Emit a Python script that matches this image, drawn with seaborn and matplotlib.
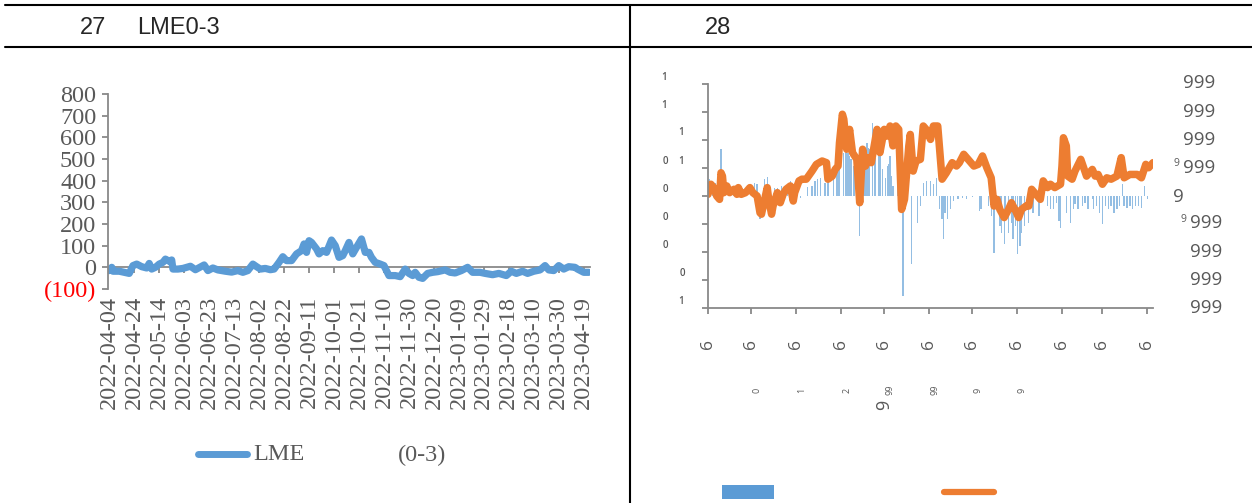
import matplotlib
matplotlib.use("Agg")
import matplotlib.pyplot as plt
import matplotlib.dates as mdates
from matplotlib.lines import Line2D
from matplotlib.patches import Rectangle
import seaborn as sns
import pandas as pd

# ---------------- data: left chart (LME 0-3) ----------------
lme_dates = [
    "2022-04-04", "2022-04-06", "2022-04-07", "2022-04-12", "2022-04-16", "2022-04-20",
    "2022-04-23", "2022-04-26", "2022-04-30", "2022-05-04", "2022-05-06", "2022-05-08",
    "2022-05-11", "2022-05-14", "2022-05-17", "2022-05-19", "2022-05-22", "2022-05-24",
    "2022-05-25", "2022-05-29", "2022-06-02", "2022-06-08", "2022-06-12", "2022-06-19",
    "2022-06-22", "2022-06-26", "2022-06-30", "2022-07-06", "2022-07-11", "2022-07-16",
    "2022-07-20", "2022-07-24", "2022-07-28", "2022-07-31", "2022-08-03", "2022-08-07",
    "2022-08-11", "2022-08-14", "2022-08-18", "2022-08-21", "2022-08-24", "2022-08-28",
    "2022-09-01", "2022-09-05", "2022-09-07", "2022-09-09", "2022-09-11", "2022-09-13",
    "2022-09-17", "2022-09-19", "2022-09-22", "2022-09-25", "2022-09-29", "2022-10-02",
    "2022-10-05", "2022-10-08", "2022-10-10", "2022-10-13", "2022-10-16", "2022-10-19",
    "2022-10-23", "2022-10-26", "2022-10-29", "2022-10-31", "2022-11-03", "2022-11-07",
    "2022-11-10", "2022-11-14", "2022-11-19", "2022-11-23", "2022-11-27", "2022-11-30",
    "2022-12-03", "2022-12-05", "2022-12-08", "2022-12-11", "2022-12-15", "2022-12-19",
    "2022-12-23", "2022-12-29", "2023-01-02", "2023-01-06", "2023-01-11", "2023-01-16",
    "2023-01-20", "2023-01-26", "2023-01-30", "2023-02-05", "2023-02-10", "2023-02-16",
    "2023-02-20", "2023-02-24", "2023-03-01", "2023-03-05", "2023-03-10", "2023-03-15",
    "2023-03-19", "2023-03-22", "2023-03-26", "2023-03-30", "2023-04-03", "2023-04-07",
    "2023-04-12", "2023-04-14", "2023-04-19", "2023-04-23",
]
lme_values = [
    -15, 0, -18, -18, -23, -28,
    8, 15, 3, -3, 18, -8,
    0, 15, 23, 38, 28, 34,
    -8, -8, -5, 5, -11, 11,
    -15, -3, -12, -18, -22, -15,
    -23, -15, 15, 3, -8, -5,
    -11, -8, 23, 49, 31, 31,
    62, 77, 108, 69, 123, 115,
    85, 62, 77, 69, 126, 100,
    46, 54, 77, 115, 62, 92,
    131, 69, 69, 46, 23, 15,
    8, -38, -38, -43, -8, -28,
    -38, -23, -46, -51, -28, -23,
    -20, -12, -23, -26, -15, 0,
    -23, -23, -28, -34, -28, -38,
    -18, -28, -18, -28, -18, -12,
    8, -12, -15, 8, -8, 3,
    0, -8, -23, -23,
]
lme_yticks = [-100, 0, 100, 200, 300, 400, 500, 600, 700, 800]
lme_ytick_labels = ["(100)", "0", "100", "200", "300", "400", "500", "600", "700", "800"]
lme_xtick_labels = [
    "2022-04-04", "2022-04-24", "2022-05-14", "2022-06-03", "2022-06-23", "2022-07-13",
    "2022-08-02", "2022-08-22", "2022-09-11", "2022-10-01", "2022-10-21", "2022-11-10",
    "2022-11-30", "2022-12-20", "2023-01-09", "2023-01-29", "2023-02-18", "2023-03-10",
    "2023-03-30", "2023-04-19",
]

# ---------------- data: right chart ----------------
bar_dates = [
    "2022-06-02", "2022-06-04", "2022-06-06", "2022-06-10", "2022-06-12", "2022-06-19",
    "2022-06-25", "2022-07-03", "2022-07-05", "2022-07-07", "2022-07-10", "2022-07-12",
    "2022-07-17", "2022-07-19", "2022-07-22", "2022-07-26", "2022-07-28", "2022-08-04",
    "2022-08-09", "2022-08-12", "2022-08-14", "2022-08-16", "2022-08-18", "2022-08-21",
    "2022-08-23", "2022-08-27", "2022-08-29", "2022-08-30", "2022-08-31", "2022-09-03",
    "2022-09-04", "2022-09-05", "2022-09-06", "2022-09-07", "2022-09-08", "2022-09-10",
    "2022-09-12", "2022-09-13", "2022-09-14", "2022-09-17", "2022-09-18", "2022-09-19",
    "2022-09-20", "2022-09-21", "2022-09-23", "2022-09-24", "2022-09-25", "2022-09-27",
    "2022-09-28", "2022-09-30", "2022-10-02", "2022-10-03", "2022-10-04", "2022-10-05",
    "2022-10-06", "2022-10-07", "2022-10-10", "2022-10-12", "2022-10-14", "2022-10-15",
    "2022-10-17", "2022-10-20", "2022-10-24", "2022-10-26", "2022-10-28", "2022-10-30",
    "2022-11-02", "2022-11-04", "2022-11-06", "2022-11-08", "2022-11-10", "2022-11-11",
    "2022-11-12", "2022-11-14", "2022-11-16", "2022-11-18", "2022-11-21", "2022-11-24",
    "2022-11-27", "2022-12-01", "2022-12-06", "2022-12-07", "2022-12-12", "2022-12-14",
    "2022-12-16", "2022-12-17", "2022-12-19", "2022-12-20", "2022-12-21", "2022-12-23",
    "2022-12-24", "2022-12-26", "2022-12-28", "2022-12-29", "2022-12-31", "2023-01-01",
    "2023-01-03", "2023-01-04", "2023-01-06", "2023-01-09", "2023-01-10", "2023-01-12",
    "2023-01-16", "2023-01-19", "2023-01-22", "2023-01-24", "2023-01-26", "2023-01-28",
    "2023-01-30", "2023-01-31", "2023-02-04", "2023-02-07", "2023-02-09", "2023-02-10",
    "2023-02-12", "2023-02-15", "2023-02-17", "2023-02-19", "2023-02-22", "2023-02-23",
    "2023-02-25", "2023-02-27", "2023-03-01", "2023-03-03", "2023-03-05", "2023-03-07",
    "2023-03-09", "2023-03-11", "2023-03-13", "2023-03-15", "2023-03-16", "2023-03-18",
    "2023-03-20", "2023-03-22", "2023-03-24", "2023-03-26", "2023-03-28", "2023-03-30",
    "2023-04-01",
]
bar_values = [
    0.60, 0.42, 0.48, 1.67, 0.24, 0.24,
    0.30, 0.48, 0.42, -0.83, 0.60, 0.69,
    0.30, 0.30, 0.36, 0.42, 0.54, -0.06,
    0.33, 0.36, 0.54, 0.60, 0.65, 0.48,
    0.60, 0.71, 0.77, 1.07, 1.37, 1.55,
    1.67, 2.02, 1.55, 1.43, 1.31, 1.07,
    1.49, 1.37, -1.43, 1.67, 1.43, 1.90,
    1.73, 1.67, 2.62, 1.67, 1.37, 1.79,
    1.55, 0.95, 0.65, 1.07, 1.13, 1.43,
    0.71, 0.36, 1.13, 1.19, -3.57, 0.60,
    0.30, -2.44, -0.95, -0.36, 0.48, 0.54,
    0.54, 0.42, 0.65, -0.48, -0.83, -1.55,
    -0.60, -0.83, -0.48, -0.18, -0.12, -0.06,
    -0.12, -0.02, -0.54, -0.48, -0.36, -0.71,
    -2.02, -0.48, -0.48, -1.07, -1.31, -1.73,
    -0.83, -1.31, -0.95, -1.55, -1.07, -2.08,
    -1.79, -1.31, -1.07, -0.95, -0.48, -0.60,
    -0.71, -0.12, -0.36, -0.48, -0.48, -0.24,
    -0.89, -1.13, -0.60, -0.95, -0.48, -0.30,
    -0.48, -0.36, -0.24, -0.48, -0.12, -0.48,
    -0.36, -0.60, -1.01, -0.36, -0.48, -0.36,
    -0.60, -0.48, -0.36, 0.42, -0.36, -0.42,
    -0.36, -0.48, -0.36, -0.36, -0.42, 0.36,
    -0.12,
]
line_dates = [
    "2022-06-01", "2022-06-03", "2022-06-05", "2022-06-07", "2022-06-09", "2022-06-10",
    "2022-06-11", "2022-06-12", "2022-06-14", "2022-06-16", "2022-06-19", "2022-06-21",
    "2022-06-22", "2022-06-24", "2022-06-27", "2022-06-30", "2022-07-02", "2022-07-05",
    "2022-07-07", "2022-07-08", "2022-07-10", "2022-07-12", "2022-07-13", "2022-07-15",
    "2022-07-16", "2022-07-19", "2022-07-21", "2022-07-23", "2022-07-25", "2022-07-28",
    "2022-07-30", "2022-07-31", "2022-08-03", "2022-08-05", "2022-08-08", "2022-08-12",
    "2022-08-15", "2022-08-19", "2022-08-22", "2022-08-23", "2022-08-26", "2022-08-28",
    "2022-08-30", "2022-08-31", "2022-09-02", "2022-09-03", "2022-09-05", "2022-09-07",
    "2022-09-09", "2022-09-12", "2022-09-14", "2022-09-16", "2022-09-18", "2022-09-20",
    "2022-09-22", "2022-09-26", "2022-09-28", "2022-10-01", "2022-10-03", "2022-10-05",
    "2022-10-07", "2022-10-09", "2022-10-11", "2022-10-13", "2022-10-15", "2022-10-18",
    "2022-10-19", "2022-10-21", "2022-10-23", "2022-10-26", "2022-10-28", "2022-10-30",
    "2022-11-02", "2022-11-04", "2022-11-07", "2022-11-10", "2022-11-13", "2022-11-17",
    "2022-11-20", "2022-11-22", "2022-11-25", "2022-11-28", "2022-12-02", "2022-12-05",
    "2022-12-08", "2022-12-11", "2022-12-14", "2022-12-16", "2022-12-18", "2022-12-20",
    "2022-12-23", "2022-12-26", "2022-12-28", "2022-12-31", "2023-01-02", "2023-01-04",
    "2023-01-07", "2023-01-09", "2023-01-11", "2023-01-13", "2023-01-17", "2023-01-19",
    "2023-01-22", "2023-01-24", "2023-01-27", "2023-01-31", "2023-02-01", "2023-02-02",
    "2023-02-04", "2023-02-05", "2023-02-08", "2023-02-10", "2023-02-14", "2023-02-16",
    "2023-02-18", "2023-02-22", "2023-02-24", "2023-02-26", "2023-03-01", "2023-03-04",
    "2023-03-07", "2023-03-11", "2023-03-14", "2023-03-16", "2023-03-20", "2023-03-25",
    "2023-03-28", "2023-03-31", "2023-04-02", "2023-04-05",
]
line_values = [
    0.06, 0.42, 0.30, 0.00, -0.12, 0.83,
    0.71, 0.12, 0.36, 0.12, 0.24, 0.06,
    0.30, 0.06, 0.12, 0.30, 0.12, 0.00,
    -0.60, -0.65, -0.18, 0.30, -0.12, -0.65,
    -0.36, 0.12, -0.24, 0.06, 0.24, 0.36,
    -0.18, 0.12, 0.54, 0.60, 0.60, 0.89,
    1.13, 1.25, 1.19, 0.60, 0.71, 0.95,
    1.07, 1.90, 2.92, 2.74, 1.67, 2.38,
    1.55, 1.31, -0.24, 1.67, 1.07, 1.37,
    1.19, 2.38, 1.55, 2.38, 2.14, 2.50,
    1.79, 2.50, 2.38, -0.48, -0.12, 1.79,
    2.20, 0.89, 1.25, 1.31, 2.50, 2.38,
    2.02, 2.50, 2.50, 0.60, 0.83, 1.19,
    1.07, 1.19, 1.49, 1.31, 1.07, 1.13,
    1.43, 1.01, 0.65, -0.36, -0.12, -0.48,
    -0.77, -0.48, -0.24, -0.54, -0.77, -0.48,
    -0.36, -0.36, 0.24, 0.12, -0.12, 0.54,
    0.30, 0.42, 0.30, 0.42, 1.07, 2.08,
    1.79, 0.71, 0.60, 0.89, 1.31, 1.01,
    0.71, 0.95, 0.71, 0.77, 0.42, 0.65,
    0.60, 0.71, 1.37, 0.65, 0.77, 0.77,
    0.65, 1.13, 1.01, 1.19,
]
right_month_ticks = [
    "2022-06-01", "2022-07-01", "2022-08-01", "2022-09-01", "2022-10-01", "2022-11-01",
    "2022-12-01", "2023-01-01", "2023-02-01", "2023-03-01", "2023-04-01",
]
right_xtick_labels = ["6", "6", "6", "6", "6", "6", "6", "6", "6", "6", "6"]
right_yticks = [-4, -3, -2, -1, 0, 1, 2, 3, 4]

# ---------------- styling ----------------
sns.set_theme(style="white")
plt.rcParams["font.family"] = ["DejaVu Sans"]

W, H = 1252, 503
BLUE = "#5B9BD5"
ORANGE = "#ED7D31"
GRAY = "#595959"
AXGRAY = "#898989"
SERIF = "Liberation Serif"
SANS = "Liberation Sans"
OPEN = "Open Sans"

fig = plt.figure(figsize=(W / 100, H / 100), dpi=100)
fig.patch.set_facecolor("white")


def fx(p):
    return p / W


def fy(p):
    return 1 - p / H


# frame lines
for (x0, y0, x1, y1) in [(5, 5, 1252, 5), (5, 47, 1252, 47), (630, 5, 630, 503)]:
    fig.add_artist(Line2D([fx(x0), fx(x1)], [fy(y0), fy(y1)], color="black", lw=1.5))

fig.text(fx(80), fy(28), "27", fontsize=17, family=SANS, va="center", ha="left")
fig.text(fx(137), fy(28), "LME0-3", fontsize=17, family=SANS, va="center", ha="left")
fig.text(fx(705), fy(28), "28", fontsize=17, family=SANS, va="center", ha="left")

# ---------------- left chart ----------------
ax1 = fig.add_axes([fx(108), fy(289), (590 - 108) / W, (289 - 94) / H])
sns.lineplot(x=pd.to_datetime(lme_dates), y=lme_values, ax=ax1, color=BLUE,
             linewidth=5.2, solid_capstyle="round", solid_joinstyle="round")
ax1.set_xlabel("")
ax1.set_ylabel("")
ax1.set_xlim(pd.Timestamp("2022-04-03"), pd.Timestamp("2023-04-24"))
ax1.set_ylim(-100, 800)
ax1.set_yticks(lme_yticks)
ax1.set_yticklabels(lme_ytick_labels, family=SERIF, fontsize=17.5, color=GRAY)
ax1.get_yticklabels()[0].set_color("red")
ax1.tick_params(axis="y", left=True, direction="out", length=4.5, width=1.3,
                color=AXGRAY, pad=4)
xt = pd.to_datetime(lme_xtick_labels)
ax1.set_xticks(xt)
ax1.set_xticklabels(lme_xtick_labels, rotation=90, family=SERIF, fontsize=17.5, color=GRAY)
ax1.tick_params(axis="x", bottom=False, length=0, pad=5)
for s in ["top", "right", "bottom"]:
    ax1.spines[s].set_visible(False)
ax1.spines["left"].set_color(AXGRAY)
ax1.spines["left"].set_linewidth(1.3)
ax1.patch.set_alpha(0)

sec = ax1.secondary_xaxis(1 / 9)
sec.set_xticks(mdates.date2num(xt))
sec.tick_params(axis="x", bottom=True, top=False, labelbottom=False, labeltop=False,
                length=4.5, width=1.3, color=AXGRAY, direction="out")
sec.spines["bottom"].set_color(AXGRAY)
sec.spines["bottom"].set_linewidth(1.3)

# left legend
fig.add_artist(Line2D([fx(198), fx(247)], [fy(454), fy(454)], color=BLUE, lw=5,
                      solid_capstyle="round"))
fig.text(fx(253), fy(455), "LME", family=SERIF, fontsize=17.5, color=GRAY, va="center")
fig.text(fx(398), fy(455), "(0-3)", family=SERIF, fontsize=17.5, color=GRAY, va="center")

# ---------------- right chart ----------------
ax2 = fig.add_axes([fx(708), fy(308), (1153 - 708) / W, (308 - 84) / H])
ax2.bar(pd.to_datetime(bar_dates), bar_values, width=0.9, color=BLUE, linewidth=0, alpha=0.65)
sns.lineplot(x=pd.to_datetime(line_dates), y=line_values, ax=ax2, color=ORANGE,
             linewidth=5.4, solid_capstyle="round", solid_joinstyle="round")
ax2.set_xlabel("")
ax2.set_ylabel("")
ax2.set_xlim(pd.Timestamp("2022-06-01"), pd.Timestamp("2023-04-05"))
ax2.set_ylim(-4, 4)
ax2.set_yticks(right_yticks)
ax2.set_yticklabels([])
ax2.set_xticks(pd.to_datetime(right_month_ticks))
ax2.set_xticklabels(right_xtick_labels, rotation=90, family=OPEN, fontsize=12.5, color=GRAY)
ax2.tick_params(axis="both", left=True, bottom=True, direction="out", length=4.5,
                width=1.3, color=AXGRAY)
ax2.tick_params(axis="x", pad=18)
for s in ["top", "right"]:
    ax2.spines[s].set_visible(False)
for s in ["left", "bottom"]:
    ax2.spines[s].set_color(AXGRAY)
    ax2.spines[s].set_linewidth(1.3)
ax2.patch.set_alpha(0)

# garbled left-axis labels of the right chart
left_small = [("1", 664, 77), ("1", 664, 105), ("1", 681, 133), ("0", 665, 162),
              ("1", 681, 162), ("0", 665, 190), ("0", 665, 218), ("0", 665, 246),
              ("0", 682, 274), ("1", 681, 302)]
for t, x, y in left_small:
    fig.text(fx(x), fy(y), t, family=OPEN, fontsize=7, color=GRAY, ha="center", va="center",
             fontweight="semibold")

# right-axis labels
right_big = [("999", 1183, 83), ("999", 1183, 112), ("999", 1183, 140), ("999", 1183, 168),
             ("9", 1173, 197), ("999", 1190, 223), ("999", 1190, 252), ("999", 1190, 280),
             ("999", 1190, 308)]
for t, x, y in right_big:
    fig.text(fx(x), fy(y), t, family=OPEN, fontsize=13.5, color=GRAY, ha="left", va="center")
for x, y in [(1176, 164), (1183, 219)]:
    fig.text(fx(x), fy(y), "9", family=OPEN, fontsize=7.5, color=GRAY, ha="center", va="center")

# secondary small date labels
small_row = [("0", 757), ("1", 802), ("2", 847), ("99", 890), ("99", 935), ("9", 978), ("9", 1022)]
for t, x in small_row:
    fig.text(fx(x), fy(390), t, family=OPEN, fontsize=6.5, color=GRAY, rotation=90,
             ha="center", va="center")
fig.text(fx(884), fy(405), "9", family=OPEN, fontsize=13, color=GRAY, rotation=90,
         ha="center", va="center")

# right legend
fig.add_artist(Rectangle((fx(722), fy(499)), (774 - 722) / W, 14 / H,
                         transform=fig.transFigure, color=BLUE, lw=0))
fig.add_artist(Line2D([fx(944), fx(994)], [fy(492), fy(492)], color=ORANGE, lw=4.5,
                      solid_capstyle="round"))

fig.savefig("out.png", dpi=100)
